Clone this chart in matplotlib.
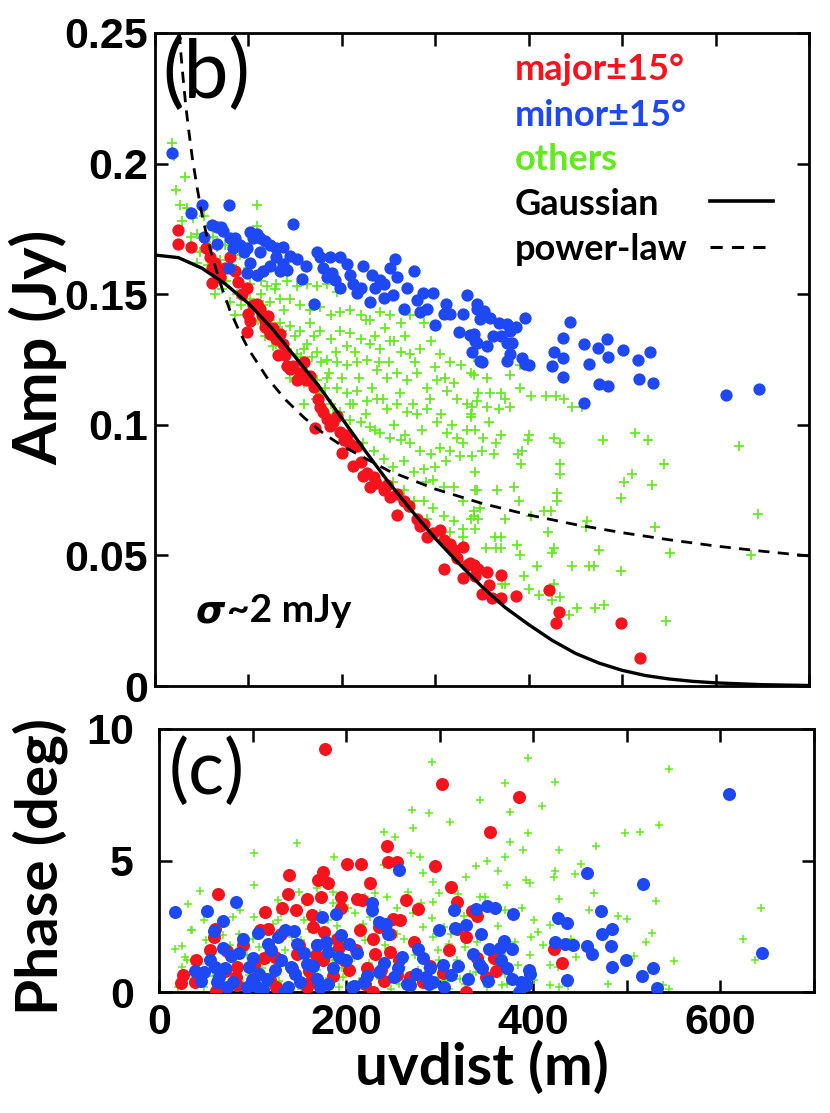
import numpy as np
import matplotlib
matplotlib.use("Agg")
import matplotlib.pyplot as plt

# ---- panel (b): visibility amplitude vs uv distance ----
amp_major = [
    (25, 0.1746), (25, 0.1692), (39, 0.1682), (55, 0.1678), (59, 0.1641), (61, 0.1600),
    (66, 0.1580), (61, 0.1542), (70, 0.1566), (80, 0.1641), (86, 0.1587), (89, 0.1546),
    (98, 0.1525), (100, 0.1423), (102, 0.1396), (98, 0.1355), (105, 0.1457), (109, 0.1464),
    (112, 0.1444), (118, 0.1396), (121, 0.1416), (118, 0.1376), (123, 0.1348), (129, 0.1328),
    (134, 0.1348), (137, 0.1308), (139, 0.1267), (132, 0.1267), (141, 0.1226), (145, 0.1212),
    (148, 0.1226), (152, 0.1171), (159, 0.1239), (162, 0.1171), (166, 0.1185), (170, 0.1144),
    (177, 0.1069), (180, 0.1049), (171, 0.0987), (184, 0.1022), (187, 0.0994), (195, 0.1035),
    (198, 0.0974), (202, 0.0940), (200, 0.0892), (209, 0.0926), (216, 0.0919), (212, 0.0844),
    (220, 0.0858), (223, 0.0804), (227, 0.0817), (230, 0.0763), (237, 0.0776), (245, 0.0749),
    (252, 0.0722), (259, 0.0654), (259, 0.0735), (266, 0.0708), (280, 0.0640), (284, 0.0613),
    (291, 0.0572), (298, 0.0586), (305, 0.0599), (309, 0.0449), (309, 0.0558), (316, 0.0545),
    (323, 0.0490), (330, 0.0531), (334, 0.0463), (337, 0.0470), (341, 0.0463), (330, 0.0415),
    (343, 0.0422), (346, 0.0449), (341, 0.0459), (355, 0.0438), (357, 0.0387), (350, 0.0351),
    (361, 0.0338), (370, 0.0425), (370, 0.0338), (386, 0.0345), (422, 0.0366), (432, 0.0285),
    (429, 0.0242), (499, 0.0242), (519, 0.0106),
    (64, 0.1620), (75, 0.1600), (93, 0.1500), (114, 0.1420), (126, 0.1370), (155, 0.1200),
    (174, 0.1100), (191, 0.1010), (205, 0.0960), (234, 0.0800), (248, 0.0770), (272, 0.0690),
    (288, 0.0620), (320, 0.0520),
]
amp_minor = [
    (18, 0.204), (39, 0.181), (50, 0.184), (79, 0.184), (52, 0.172), (61, 0.1764),
    (66, 0.1757), (71, 0.1757), (73, 0.1743), (80, 0.1716), (86, 0.1716), (91, 0.1689),
    (98, 0.1675), (102, 0.1737), (105, 0.1716), (109, 0.1730), (112, 0.1716), (118, 0.1703),
    (123, 0.1689), (129, 0.1675), (137, 0.1682), (148, 0.1768), (66, 0.1692), (79, 0.1600),
    (95, 0.1662), (102, 0.1621), (109, 0.1573), (116, 0.1587), (123, 0.1607), (130, 0.1641),
    (137, 0.1614), (141, 0.1594), (145, 0.1648), (152, 0.1634), (157, 0.1560), (162, 0.1607),
    (170, 0.1464), (173, 0.1662), (177, 0.1641), (180, 0.1600), (187, 0.1641), (189, 0.1580),
    (193, 0.1553), (198, 0.1641), (198, 0.1525), (205, 0.1614), (209, 0.1573), (212, 0.1539),
    (220, 0.1525), (223, 0.1607), (230, 0.1471), (232, 0.1573), (236, 0.1525), (241, 0.1553),
    (245, 0.1485), (252, 0.1600), (257, 0.1634), (255, 0.1498), (259, 0.1566), (266, 0.1444),
    (270, 0.1525), (277, 0.1587), (280, 0.1478), (284, 0.1430), (287, 0.1505), (291, 0.1444),
    (298, 0.1505), (300, 0.1382), (309, 0.1423), (311, 0.1464), (316, 0.1423), (334, 0.1498),
    (330, 0.1423), (325, 0.1355), (337, 0.1342), (343, 0.1321), (339, 0.1280), (348, 0.1246),
    (345, 0.1444), (84, 0.1675), (98, 0.1580), (112, 0.1662), (134, 0.1587), (184, 0.1566),
    (216, 0.1505), (245, 0.1539), (345, 0.1461), (352, 0.1436), (348, 0.1404), (359, 0.1410),
    (368, 0.1391), (377, 0.1384), (380, 0.1359), (386, 0.1374), (396, 0.1407), (341, 0.1346),
    (362, 0.1340), (370, 0.1340), (345, 0.1314), (355, 0.1302), (377, 0.1314), (382, 0.1314),
    (380, 0.1270), (377, 0.1244), (350, 0.1242), (393, 0.1257), (396, 0.1231), (400, 0.1229),
    (444, 0.1395), (437, 0.1333), (427, 0.1280), (437, 0.1254), (425, 0.1225), (437, 0.1183),
    (459, 0.1310), (474, 0.1293), (484, 0.1327), (485, 0.1259), (464, 0.1231), (475, 0.1157),
    (485, 0.1148), (501, 0.1286), (517, 0.1249), (530, 0.1277), (518, 0.1176), (533, 0.1160),
    (459, 0.1085), (611, 0.1114), (646, 0.1138),
]
amp_other = [
    (18, 0.208), (20, 0.203), (32, 0.195), (23, 0.190), (27, 0.184), (34, 0.183), (109, 0.184),
    (29, 0.178), (41, 0.179), (52, 0.180), (38, 0.172), (45, 0.173), (55, 0.170), (48, 0.166),
    (66, 0.168), (75, 0.169), (84, 0.170), (109, 0.176), (91, 0.165), (45, 0.162), (57, 0.161),
    (70, 0.163), (82, 0.161), (95, 0.158), (102, 0.154), (113, 0.155), (120, 0.153), (130, 0.154),
    (141, 0.155), (152, 0.153), (163, 0.154), (173, 0.153), (184, 0.154), (195, 0.151),
    (80, 0.147), (102, 0.148), (113, 0.150), (123, 0.147), (134, 0.148), (145, 0.148),
    (155, 0.146), (166, 0.144), (177, 0.145), (188, 0.142), (198, 0.143), (209, 0.144),
    (220, 0.142), (230, 0.140), (241, 0.143), (252, 0.142), (263, 0.139), (273, 0.142),
    (288, 0.139), (123, 0.140), (134, 0.139), (145, 0.138), (155, 0.136), (166, 0.139),
    (177, 0.136), (188, 0.133), (198, 0.136), (209, 0.135), (220, 0.133), (230, 0.131),
    (241, 0.129), (252, 0.132), (263, 0.128), (273, 0.127), (284, 0.129), (295, 0.132),
    (305, 0.127), (316, 0.124), (327, 0.123), (338, 0.120), (130, 0.131), (141, 0.129),
    (152, 0.127), (163, 0.131), (173, 0.128), (184, 0.125), (195, 0.124), (205, 0.123),
    (216, 0.124), (227, 0.125), (238, 0.121), (248, 0.118), (259, 0.120), (270, 0.117),
    (280, 0.120), (291, 0.114), (302, 0.117), (313, 0.113), (323, 0.110), (334, 0.108),
    (345, 0.109), (152, 0.121), (163, 0.120), (173, 0.117), (184, 0.118), (195, 0.114),
    (205, 0.112), (216, 0.113), (227, 0.109), (238, 0.110), (248, 0.106), (259, 0.108),
    (270, 0.105), (280, 0.104), (291, 0.106), (302, 0.101), (313, 0.097), (323, 0.095),
    (338, 0.104), (159, 0.108), (177, 0.112), (188, 0.108), (198, 0.105), (209, 0.102),
    (220, 0.101), (230, 0.099), (241, 0.097), (252, 0.095), (263, 0.094), (273, 0.093),
    (284, 0.090), (295, 0.089), (305, 0.091), (316, 0.090), (330, 0.093), (209, 0.108),
    (223, 0.093), (234, 0.090), (245, 0.087), (255, 0.084), (266, 0.086), (277, 0.082),
    (288, 0.083), (298, 0.079), (309, 0.076), (320, 0.076), (330, 0.071), (345, 0.075),
    (245, 0.076), (255, 0.078), (266, 0.075), (277, 0.071), (288, 0.071), (298, 0.068),
    (309, 0.065), (320, 0.063), (330, 0.060), (341, 0.067), (273, 0.068), (291, 0.064),
    (316, 0.059), (330, 0.057), (338, 0.064), (348, 0.068), (159, 0.129),
    (341, 0.126), (341, 0.119), (355, 0.118), (380, 0.119), (391, 0.123), (346, 0.112),
    (359, 0.112), (370, 0.112), (375, 0.110), (391, 0.114), (402, 0.111), (418, 0.111),
    (429, 0.111), (438, 0.110), (446, 0.107), (457, 0.107), (339, 0.107), (355, 0.107),
    (368, 0.106), (380, 0.107), (338, 0.103), (357, 0.101), (343, 0.098), (351, 0.095),
    (365, 0.093), (370, 0.096), (400, 0.096), (399, 0.094), (363, 0.089), (389, 0.089),
    (393, 0.090), (427, 0.095), (434, 0.093), (480, 0.094), (514, 0.097), (528, 0.094),
    (545, 0.085), (625, 0.092), (339, 0.088), (392, 0.085), (433, 0.085), (433, 0.081),
    (511, 0.081), (502, 0.078), (532, 0.077), (499, 0.072), (343, 0.075), (366, 0.075),
    (384, 0.076), (390, 0.071), (430, 0.074), (430, 0.071), (416, 0.067), (424, 0.067),
    (402, 0.065), (375, 0.064), (341, 0.065), (346, 0.064), (343, 0.060), (421, 0.059),
    (462, 0.063), (461, 0.061), (535, 0.061), (645, 0.066), (364, 0.057), (370, 0.057),
    (354, 0.053), (365, 0.053), (370, 0.053), (387, 0.054), (391, 0.050), (427, 0.053),
    (425, 0.051), (475, 0.052), (551, 0.051), (638, 0.050), (409, 0.046), (446, 0.046),
    (464, 0.046), (470, 0.046), (499, 0.044), (395, 0.042), (371, 0.039), (375, 0.039),
    (400, 0.037), (411, 0.035), (425, 0.033), (434, 0.034), (427, 0.039), (443, 0.027),
    (452, 0.030), (471, 0.030), (481, 0.031), (547, 0.025),
    (58, 0.176), (62, 0.172), (68, 0.158), (72, 0.152), (76, 0.155), (88, 0.150), (92, 0.146),
    (96, 0.142), (100, 0.160), (106, 0.144), (110, 0.140), (116, 0.146), (118, 0.134),
    (126, 0.130), (128, 0.152), (136, 0.136), (140, 0.122), (144, 0.118), (150, 0.134),
    (156, 0.126), (160, 0.116), (168, 0.126), (172, 0.110), (178, 0.124), (182, 0.114),
    (190, 0.104), (194, 0.128), (200, 0.118), (206, 0.130), (212, 0.108), (218, 0.118),
    (226, 0.104), (232, 0.114), (236, 0.098), (244, 0.110), (250, 0.124), (256, 0.100),
    (262, 0.112), (268, 0.096), (276, 0.108), (286, 0.098), (294, 0.110), (300, 0.084),
    (306, 0.104), (312, 0.086), (318, 0.100), (326, 0.088), (334, 0.098), (342, 0.082),
    (350, 0.090), (226, 0.140), (236, 0.134), (246, 0.137), (256, 0.132), (268, 0.134),
    (278, 0.124), (300, 0.122), (310, 0.118), (320, 0.116), (64, 0.150), (86, 0.142),
    (138, 0.144), (170, 0.134), (186, 0.120), (214, 0.128), (240, 0.124), (290, 0.078),
]

# model curves (uvdist in m, amplitude in Jy)
gauss_uv = [0, 25, 50, 75, 100, 125, 150, 175, 200, 225, 250, 275, 300, 325, 350, 375,
            400, 425, 450, 475, 500, 525, 550, 575, 600, 650, 700]
gauss_amp = [0.165, 0.164, 0.160, 0.154, 0.1465, 0.137, 0.126, 0.115, 0.1025, 0.090, 0.078,
             0.067, 0.0565, 0.047, 0.038, 0.030, 0.0235, 0.0175, 0.0125, 0.0088, 0.006,
             0.004, 0.0027, 0.0018, 0.0012, 0.0005, 0.0002]
power_uv = [26, 28, 30, 33, 36, 40, 45, 50, 55, 60, 70, 80, 90, 100, 120, 140, 160, 180,
            200, 250, 300, 350, 400, 450, 500, 550, 600, 650, 700]
power_amp = [0.250, 0.241, 0.233, 0.222, 0.213, 0.202, 0.191, 0.181, 0.173, 0.166, 0.154,
             0.144, 0.136, 0.129, 0.118, 0.1095, 0.1026, 0.0968, 0.092, 0.0824, 0.0754,
             0.0699, 0.0655, 0.0618, 0.0587, 0.0560, 0.0536, 0.0516, 0.0498]

# ---- panel (c): visibility phase vs uv distance ----
phase_major = [
    (177, 9.24), (302, 7.92), (385, 7.41), (354, 6.07), (244, 5.57), (245, 4.96), (254, 4.93),
    (201, 4.85), (216, 4.87), (295, 4.80), (139, 4.46), (175, 4.56), (225, 4.15), (170, 4.24),
    (181, 4.13), (312, 3.98), (63, 3.71), (138, 3.74), (173, 3.62), (158, 3.53), (195, 3.61),
    (212, 3.52), (217, 3.49), (264, 3.49), (319, 3.41), (131, 3.18), (146, 3.11), (113, 3.05),
    (164, 2.92), (195, 3.18), (277, 3.14), (335, 3.09), (340, 2.88), (60, 2.39), (59, 2.10),
    (108, 2.35), (116, 2.41), (165, 2.48), (176, 2.29), (215, 2.35), (235, 2.48), (250, 2.76),
    (258, 2.73), (247, 2.22), (319, 2.39), (328, 2.10), (54, 1.59), (73, 1.56), (40, 1.21),
    (26, 0.64), (24, 0.36), (38, 0.38), (61, 0.03), (83, 0.25), (83, 0.95), (102, 1.02),
    (124, 1.33), (147, 1.46), (169, 1.78), (192, 1.72), (175, 1.21), (203, 0.83), (229, 2.03),
    (231, 1.46), (247, 1.52), (237, 0.83), (254, 0.64), (268, 0.57), (282, 0.38), (303, 0.72),
    (328, 0.01), (349, 0.57), (358, 1.30), (422, 1.65), (431, 1.12), (220, 0.32), (229, 0.0),
    (161, 0.38), (158, 0.19), (119, 0.44), (82, 0.57),
    (70, 0.8), (90, 1.8), (100, 0.5), (112, 1.3), (125, 0.2), (130, 2.2), (142, 0.9),
    (150, 1.8), (160, 0.8), (168, 1.4), (186, 0.6), (190, 2.0), (198, 1.2), (210, 1.6),
    (222, 0.9), (240, 0.4), (256, 1.2), (272, 1.9), (290, 1.0), (310, 1.6), (340, 1.3),
    (360, 0.8),
]
phase_minor = [
    (17, 3.05), (51, 3.07), (82, 3.41), (68, 2.69), (59, 2.33), (68, 1.68), (77, 1.36),
    (90, 2.01), (106, 2.26), (117, 1.84), (127, 2.08), (135, 2.35), (144, 2.31), (147, 1.84),
    (174, 2.86), (189, 2.95), (228, 3.37), (228, 3.11), (257, 4.64), (235, 2.67), (243, 2.57),
    (245, 2.22), (195, 2.16), (203, 1.84), (169, 1.78), (181, 1.52), (192, 1.33), (158, 1.08),
    (141, 0.95), (124, 0.83), (107, 0.70), (96, 0.95), (99, 0.44), (79, 0.38), (64, 0.57),
    (60, 0.95), (39, 0.80), (48, 0.76), (62, 0.38), (73, 0.19), (104, 0.22), (111, 0.13),
    (134, 0.0), (138, 0.19), (151, 0.38), (169, 0.51), (181, 0.32), (208, 0.22), (219, 0.38),
    (235, 0.76), (251, 0.57), (260, 1.33), (277, 1.65), (282, 1.30), (299, 2.35), (303, 1.02),
    (315, 3.11), (316, 2.44), (312, 0.64), (328, 2.54), (339, 3.15), (350, 3.27), (359, 3.19),
    (344, 2.22), (336, 1.46), (342, 1.08), (353, 1.65), (364, 1.69), (369, 1.93), (378, 2.96),
    (377, 1.65), (377, 0.51), (387, 0.38), (395, 0.83), (397, 0.70), (392, 0.25), (385, 0.0),
    (426, 2.80), (436, 2.63), (423, 1.91), (434, 1.84), (442, 1.80), (436, 0.47), (457, 4.54),
    (472, 3.09), (473, 2.19), (484, 2.41), (457, 1.74), (463, 1.44), (483, 1.74), (484, 0.95),
    (499, 1.23), (517, 4.10), (516, 0.62), (528, 0.90), (532, 0.17), (609, 7.51), (644, 1.50),
    (206, 0.19), (268, 0.25), (289, 0.32), (293, 0.38), (285, 0.57),
    (45, 0.4), (55, 1.2), (70, 0.9), (86, 1.5), (94, 0.2), (100, 1.3), (115, 0.5), (120, 1.6),
    (130, 1.2), (145, 0.7), (155, 1.5), (165, 1.0), (172, 0.2), (178, 1.9), (186, 0.9),
    (200, 1.2), (212, 1.5), (222, 0.6), (240, 1.1), (255, 0.9), (265, 0.3), (275, 0.7),
    (290, 0.9), (305, 0.2), (320, 1.0), (330, 0.5), (345, 0.9), (352, 0.4), (365, 1.2),
    (372, 0.9),
]
phase_other = [
    (292, 8.73), (394, 8.88), (545, 8.48), (370, 7.94), (423, 7.97), (343, 7.30), (409, 7.08),
    (270, 6.92), (289, 6.82), (375, 6.86), (271, 6.23), (311, 6.48), (534, 6.34), (498, 6.06),
    (514, 6.07), (240, 6.07), (252, 5.91), (394, 6.04), (148, 5.68), (467, 5.57), (375, 5.72),
    (427, 5.40), (102, 5.27), (269, 5.27), (279, 5.15), (370, 5.15), (389, 5.40), (351, 4.97),
    (339, 4.80), (451, 4.87), (362, 4.61), (187, 5.15), (240, 4.83), (282, 4.51), (293, 4.19),
    (423, 4.60), (445, 4.47), (422, 4.38), (465, 3.77), (531, 3.46), (643, 3.20), (392, 4.26),
    (397, 4.16), (372, 4.05), (328, 4.36), (299, 3.75), (320, 3.72), (343, 3.61), (293, 3.43),
    (31, 3.33), (44, 3.84), (102, 4.05), (150, 3.81), (169, 3.96), (186, 3.81), (197, 3.62),
    (220, 3.62), (231, 3.75), (244, 3.62), (87, 3.11), (130, 2.99), (147, 3.05), (186, 3.37),
    (209, 2.99), (254, 3.18), (271, 2.99), (370, 3.11), (427, 3.52), (500, 2.77), (34, 2.35),
    (48, 2.73), (79, 2.86), (102, 2.86), (127, 2.73), (155, 2.73), (181, 2.73), (226, 2.86),
    (260, 2.73), (282, 2.48), (305, 2.48), (401, 2.73), (418, 2.53), (527, 2.26), (405, 2.29),
    (398, 2.10), (624, 2.03), (17, 1.65), (25, 1.74), (35, 2.35), (28, 1.33), (50, 1.97),
    (68, 2.16), (85, 2.22), (130, 2.22), (147, 2.22), (169, 2.35), (197, 2.22), (220, 1.97),
    (254, 2.22), (271, 1.97), (293, 2.10), (310, 1.84), (327, 1.72), (367, 1.46), (418, 1.02),
    (446, 1.33), (508, 1.36), (550, 1.17), (637, 1.21), (25, 0.95), (40, 0.95), (54, 1.08),
    (79, 1.46), (113, 1.46), (135, 1.59), (164, 1.33), (186, 1.21), (214, 1.46), (237, 1.21),
    (260, 0.95), (277, 0.83), (299, 1.21), (322, 0.95), (339, 0.76), (361, 0.95), (384, 1.02),
    (418, 0.25), (427, 0.19), (437, 0.22), (426, 0.95), (539, 0.25), (545, 0.13), (20, 0.19),
    (48, 0.19), (68, 0.13), (90, 0.32), (113, 0.19), (130, 0.25), (152, 0.13), (169, 0.25),
    (192, 0.19), (209, 0.06), (226, 0.19), (248, 0.13), (265, 0.25), (288, 0.19), (310, 0.13),
    (327, 0.32), (350, 0.19), (367, 0.25), (45, 0.57), (68, 0.70), (96, 0.64), (124, 0.57),
    (147, 0.70), (169, 0.83), (197, 0.57), (220, 0.64), (248, 0.44), (271, 0.44), (299, 0.57),
    (322, 0.51), (356, 0.57), (372, 0.32), (401, 0.44), (107, 1.72), (152, 1.97), (181, 1.97),
    (206, 1.72), (175, 3.49), (156, 3.37), (127, 3.49),
    (30, 1.2), (42, 0.3), (55, 1.6), (58, 0.6), (72, 1.0), (76, 1.8), (88, 0.9), (94, 1.4),
    (100, 2.0), (110, 0.9), (118, 1.2), (122, 2.6), (128, 0.4), (136, 1.0), (142, 2.1),
    (150, 0.5), (156, 1.6), (160, 2.4), (166, 0.9), (172, 3.0), (178, 0.4), (184, 1.5),
    (190, 2.5), (196, 0.9), (202, 3.2), (208, 1.3), (214, 0.4), (218, 2.6), (224, 1.1),
    (230, 3.3), (236, 0.5), (242, 1.8), (248, 2.7), (256, 0.3), (262, 2.0), (266, 3.8),
    (274, 1.4), (280, 3.4), (286, 0.9), (292, 2.8), (298, 1.6), (306, 0.4), (312, 2.2),
    (318, 1.2), (326, 2.9), (332, 0.7), (340, 1.9), (348, 3.6), (356, 1.2), (362, 2.5),
    (370, 0.7), (380, 1.9), (388, 3.2), (396, 1.4), (410, 1.8), (440, 2.0), (460, 3.1),
    (480, 0.3), (490, 2.9), (520, 1.9),
]

amp_ticks = [0, 0.05, 0.1, 0.15, 0.2, 0.25]
amp_ticklabels = ["0", "0.05", "0.1", "0.15", "0.2", "0.25"]
phase_ticks = [0, 5, 10]
uv_major_ticks = [0, 200, 400, 600]
uv_minor_ticks = [100, 300, 500, 700]

RED = "#f5141e"
BLUE = "#1f48f5"
GREEN = "#62ea1c"
TICKFONT = ["Liberation Sans", "DejaVu Sans"]
LABELFONT = ["Lato", "DejaVu Sans"]

W, H = 830, 1113
fig = plt.figure(figsize=(W / 100, H / 100), dpi=100)
ax_amp = fig.add_axes([155 / W, 1 - 686 / H, 654 / W, 653 / H])
ax_ph = fig.add_axes([159 / W, 1 - 992 / H, 655 / W, 263 / H])


def style_axes(ax, ypad, xpad):
    for sp in ax.spines.values():
        sp.set_linewidth(2.0)
    ax.tick_params(which="both", direction="in", top=True, right=True,
                   length=9, width=1.8, labelsize=31)
    ax.tick_params(axis="y", pad=ypad)
    ax.tick_params(axis="x", pad=xpad)
    for lab in ax.get_xticklabels() + ax.get_yticklabels():
        lab.set_family(TICKFONT)
        lab.set_weight("bold")


def scatter_groups(ax, major, minor, other, dot, plus, plus_lw):
    o = np.array(other)
    ax.scatter(o[:, 0], o[:, 1], marker="+", s=plus, linewidths=plus_lw, color=GREEN, zorder=2)
    m = np.array(major)
    ax.scatter(m[:, 0], m[:, 1], marker="o", s=dot, linewidths=0, color=RED, zorder=3)
    n = np.array(minor)
    ax.scatter(n[:, 0], n[:, 1], marker="o", s=dot, linewidths=0, color=BLUE, zorder=4)


# -- amplitude panel
scatter_groups(ax_amp, amp_major, amp_minor, amp_other, dot=78, plus=50, plus_lw=1.25)
ax_amp.plot(gauss_uv, gauss_amp, color="black", lw=2.4, zorder=5)
ax_amp.plot(power_uv, power_amp, color="black", lw=2.0, ls=(0, (4, 3)), zorder=5)
ax_amp.set_xlim(0, 700)
ax_amp.set_ylim(0, 0.25)
ax_amp.set_xticks(uv_major_ticks + uv_minor_ticks)
ax_amp.set_xticklabels([])
ax_amp.set_yticks(amp_ticks)
ax_amp.set_yticklabels(amp_ticklabels)
style_axes(ax_amp, ypad=5, xpad=8)

ax_amp.text(0.012, 0.937, "(b)", transform=ax_amp.transAxes, fontsize=58,
            family=LABELFONT, va="center", ha="left", zorder=1)
legend_items = [("major\u00b115\u00b0", RED, None), ("minor\u00b115\u00b0", BLUE, None),
                ("others", GREEN, None), ("Gaussian", "black", "-"),
                ("power-law", "black", (0, (4, 3)))]
legend_y = [0.928, 0.858, 0.790, 0.721, 0.652]
for (label, col, ls), yb in zip(legend_items, legend_y):
    ax_amp.text(0.550, yb, label, transform=ax_amp.transAxes, color=col, fontsize=26,
                weight="bold", family=LABELFONT, va="baseline", ha="left")
    if ls is not None:
        ax_amp.plot([0.849, 0.945], [yb + 0.021, yb + 0.021], transform=ax_amp.transAxes,
                    color="black", lw=2.6 if ls == "-" else 2.2, ls=ls)
ax_amp.text(0.062, 0.098, "\u03c3", transform=ax_amp.transAxes, fontsize=27,
            style="italic", weight="bold", family=["DejaVu Sans"], va="baseline")
ax_amp.text(0.110, 0.098, "~2 mJy", transform=ax_amp.transAxes, fontsize=28,
            weight="bold", family=LABELFONT, va="baseline")

# -- phase panel
scatter_groups(ax_ph, phase_major, phase_minor, phase_other, dot=88, plus=30, plus_lw=1.1)
ax_ph.set_xlim(0, 700)
ax_ph.set_ylim(0, 10)
ax_ph.set_xticks(uv_major_ticks)
ax_ph.set_xticks(uv_minor_ticks, minor=True)
ax_ph.set_yticks(phase_ticks)
style_axes(ax_ph, ypad=18, xpad=8)
ax_ph.text(0.014, 0.835, "(c)", transform=ax_ph.transAxes, fontsize=54,
           family=LABELFONT, va="center", ha="left")

fig.text(38 / W, 1 - 347 / H, "Amp (Jy)", rotation=90, ha="center", va="center",
         fontsize=44, family=LABELFONT, weight="bold")
fig.text(40 / W, 1 - 867 / H, "Phase (deg)", rotation=90, ha="center", va="center",
         fontsize=42, family=LABELFONT, weight="bold")
fig.text(482 / W, 1 - 1068 / H, "uvdist (m)", ha="center", va="center",
         fontsize=42, family=LABELFONT, weight="bold")

fig.savefig("out.png", dpi=100)
